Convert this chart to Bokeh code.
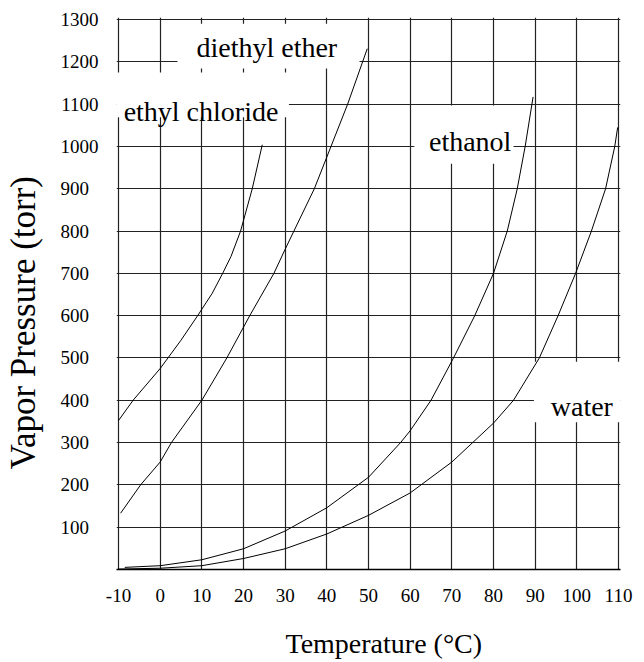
from bokeh.plotting import figure
from bokeh.models import Range1d, FixedTicker, Title
from bokeh.core.properties import value
from bokeh.embed import file_html
from bokeh.resources import INLINE

FONT = "'Liberation Serif', 'Times New Roman', Times, serif"

# ---- data ----
x_ticks = [-10, 0, 10, 20, 30, 40, 50, 60, 70, 80, 90, 100, 110]
y_ticks = [100, 200, 300, 400, 500, 600, 700, 800, 900, 1000, 1100, 1200, 1300]
y_grid = [0] + y_ticks

ethyl_chloride_t = [-10, -6.5, 0, 5, 9, 12.5, 15, 17, 19.3, 22.1, 24.5]
ethyl_chloride_p = [352, 400, 475, 542, 600, 653, 700, 740, 800, 900, 1004]

diethyl_ether_t = [-9.5, -4.7, 0, 2.7, 10, 16, 21.5, 27.3, 30, 32.1, 37.0, 41, 45, 49.7]
diethyl_ether_p = [133, 200, 254, 300, 400, 500, 600, 700, 757, 800, 900, 1000, 1100, 1231]

ethanol_t = [-8.5, 0, 10, 20, 30, 40, 50, 57.7, 60, 65.0, 70.4, 75.5, 80, 83.3, 85.7, 87.6, 89.5]
ethanol_p = [5, 9, 23, 49, 91, 146, 218, 300, 328, 400, 500, 600, 700, 800, 900, 1000, 1117]

water_t = [-10, 0, 10, 20, 30, 40, 50, 60, 70, 80, 84.8, 91.0, 95.5, 99.7, 103.5, 106.9, 109.1, 109.8]
water_p = [1, 3, 9, 26, 49, 84, 128, 181, 254, 346, 400, 500, 600, 700, 800, 900, 1000, 1045]

names = ["diethyl ether", "ethyl chloride", "ethanol", "water"]
x_title = "Temperature (°C)"
y_title = "Vapor Pressure (torr)"

# ---- label placement (positions, not data) ----
label_x = [25.6, 9.8, 74.4, 101.2]
label_y = [1233, 1083, 1012, 385]
box_left = [4.16, -12, 61.0, 89.7]
box_right = [47.84, 30.9, 84.8, 113]
box_bottom = [1184, 1069, 959, 348]
box_top = [1290, 1175, 1097, 491]

p = figure(width=644, height=662, output_backend="svg", toolbar_location=None,
           x_range=Range1d(-10.48, 110.48), y_range=Range1d(0, 1304.73),
           min_border_left=116, min_border_right=24, min_border_top=17,
           min_border_bottom=93)
p.outline_line_color = None
p.background_fill_color = "white"
p.border_fill_color = "white"

p.xaxis.ticker = FixedTicker(ticks=x_ticks)
p.yaxis.ticker = FixedTicker(ticks=y_ticks)
p.xgrid.ticker = FixedTicker(ticks=x_ticks)
p.ygrid.ticker = FixedTicker(ticks=y_grid)
p.grid.grid_line_color = "#222222"
p.grid.grid_line_width = 1.2
p.grid.grid_line_alpha = 1.0

for ax in (p.xaxis[0], p.yaxis[0]):
    ax.major_tick_out = 0
    ax.major_tick_in = 0
    ax.minor_tick_out = 0
    ax.minor_tick_in = 0
    ax.major_label_text_font = FONT
    ax.major_label_text_font_size = "19px"
    ax.major_label_text_color = "black"

p.yaxis.axis_line_color = None
p.xaxis.axis_line_color = "black"
p.xaxis.axis_line_width = 1.5
p.yaxis.major_label_standoff = 18
p.xaxis.major_label_standoff = 19
p.yaxis.major_label_overrides = {v: f"{v}\u2007" for v in y_ticks if v < 1000}
p.xaxis.major_label_overrides = {v: str(v) for v in x_ticks}

# white label boxes over the grid
p.quad(left=box_left, right=box_right, bottom=box_bottom, top=box_top,
       fill_color="white", line_color=None)

for t, v in [(ethyl_chloride_t, ethyl_chloride_p), (diethyl_ether_t, diethyl_ether_p),
             (ethanol_t, ethanol_p), (water_t, water_p)]:
    p.line(t, v, line_color="black", line_width=1)

p.text(x=label_x, y=label_y, text=names, text_font=value(FONT),
       text_font_size="28px", text_align="center", text_baseline="alphabetic",
       text_color="black")

xt = Title(text=x_title, text_font=FONT, text_font_size="28px",
           text_font_style="normal", text_color="black", align="left",
           vertical_align="bottom", offset=169, standoff=0)
xt.padding = dict(left=0, right=0, top=21, bottom=0)
p.add_layout(xt, "below")

yt = Title(text=y_title, text_font=FONT, text_font_size="35px",
           text_font_style="normal", text_color="black", align="left",
           vertical_align="bottom", offset=100, standoff=0)
yt.padding = dict(left=0, right=0, top=0, bottom=15)
p.add_layout(yt, "left")

open("out.html", "w").write(file_html(p, INLINE))
